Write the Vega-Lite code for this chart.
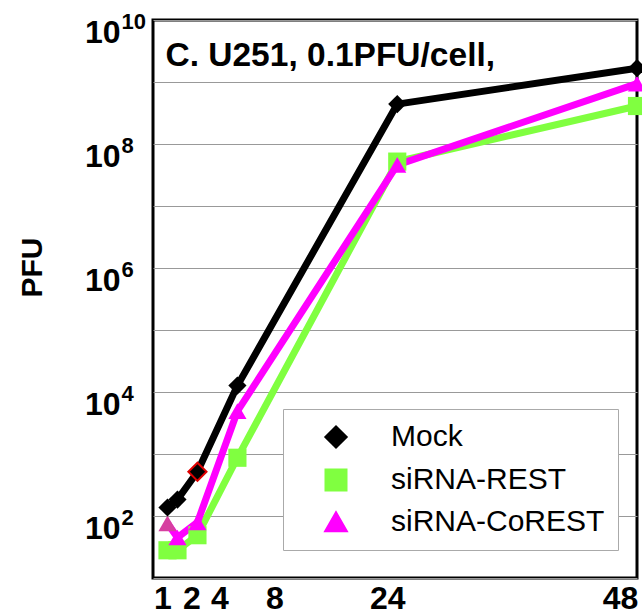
{
  "$schema": "https://vega.github.io/schema/vega-lite/v6.json",
  "width": 484,
  "height": 558,
  "autosize": {"type": "none"},
  "padding": {"left": 153, "top": 20, "right": 5, "bottom": 36},
  "background": "white",
  "config": {"view": {"stroke": "black", "strokeWidth": 3}, "font": "Liberation Sans"},
  "data": {
    "values": [
      {"series": "siRNA-REST", "hours": 1, "pfu": 28},
      {"series": "siRNA-REST", "hours": 2, "pfu": 28},
      {"series": "siRNA-REST", "hours": 4, "pfu": 49},
      {"series": "siRNA-REST", "hours": 8, "pfu": 870},
      {"series": "siRNA-REST", "hours": 24, "pfu": 52000000},
      {"series": "siRNA-REST", "hours": 48, "pfu": 410000000},
      {"series": "siRNA-CoREST", "hours": 1, "pfu": 76},
      {"series": "siRNA-CoREST", "hours": 2, "pfu": 45},
      {"series": "siRNA-CoREST", "hours": 4, "pfu": 79},
      {"series": "siRNA-CoREST", "hours": 8, "pfu": 4900},
      {"series": "siRNA-CoREST", "hours": 24, "pfu": 46000000},
      {"series": "siRNA-CoREST", "hours": 48, "pfu": 940000000},
      {"series": "Mock", "hours": 1, "pfu": 137},
      {"series": "Mock", "hours": 2, "pfu": 184},
      {"series": "Mock", "hours": 4, "pfu": 516},
      {"series": "Mock", "hours": 8, "pfu": 12700},
      {"series": "Mock", "hours": 24, "pfu": 440000000},
      {"series": "Mock", "hours": 48, "pfu": 1670000000}
    ]
  },
  "resolve": {"axis": {"y": "independent"}, "scale": {"y": "shared"}},
  "layer": [
    {
      "mark": {"type": "line", "strokeWidth": 7},
      "encoding": {
        "x": {
          "field": "hours", "type": "quantitative",
          "scale": {"domain": [-0.45, 48], "nice": false, "zero": false},
          "axis": {
            "values": [0.5, 3.4, 6.2, 11.7, 23, 46.3],
            "labelExpr": "datum.value < 1 ? '1' : datum.value < 5 ? '2' : datum.value < 8 ? '4' : datum.value < 15 ? '8' : datum.value < 30 ? '24' : '48'",
            "grid": false, "ticks": false, "tickSize": 0, "domain": false,
            "labelFont": "Liberation Sans", "labelFontWeight": "bold", "labelFontSize": 32, "labelColor": "black",
            "labelPadding": 5, "labelFlush": false, "labelOverlap": false, "labelBound": false,
            "title": null
          }
        },
        "y": {
          "field": "pfu", "type": "quantitative",
          "scale": {"type": "log", "domain": [10, 10000000000], "nice": false},
          "axis": {
            "values": [10, 100, 1000, 10000, 100000, 1000000, 10000000, 100000000, 1000000000, 10000000000],
            "labelExpr": "(round(log(datum.value)/LN10) % 2 == 0) ? '10' : ''",
            "grid": true, "gridColor": "#999999", "gridWidth": 1,
            "ticks": false, "tickSize": 0, "domain": false,
            "labelAlign": "right", "labelBaseline": "middle", "labelPadding": 33, "labelOffset": 12,
            "labelFont": "Liberation Sans", "labelFontWeight": "bold", "labelFontSize": 32, "labelColor": "black",
            "labelFlush": false, "labelOverlap": false, "labelBound": false,
            "title": "PFU", "titleFont": "Liberation Sans", "titleFontWeight": "bold", "titleFontSize": 30, "titleColor": "black",
            "titleAngle": 270, "titleX": -121, "titleY": 247, "titleAlign": "center", "titleBaseline": "middle"
          }
        },
        "color": {
          "field": "series", "type": "nominal",
          "scale": {"domain": ["Mock", "siRNA-REST", "siRNA-CoREST"], "range": ["#000000", "#80ff40", "#ff00ff"]},
          "legend": {
            "orient": "none", "legendX": 130, "legendY": 389, "title": null, "direction": "vertical",
            "padding": 13, "fillColor": "white", "strokeColor": "#aaaaaa",
            "labelFont": "Liberation Sans", "labelFontSize": 30, "labelColor": "black", "labelFontWeight": "normal",
            "labelExpr": "datum.label == 'Mock' ? '\u00a0Mock' : datum.label",
            "symbolSize": 400, "symbolStrokeWidth": 3, "symbolOffset": 25, "labelOffset": 40, "rowPadding": 11, "labelLimit": 400
          }
        }
      }
    },
    {
      "mark": {"type": "point", "filled": true, "size": 330, "opacity": 1, "strokeWidth": 2},
      "encoding": {
        "x": {"field": "hours", "type": "quantitative"},
        "y": {
          "field": "pfu", "type": "quantitative",
          "axis": {
            "orient": "left",
            "values": [10, 100, 1000, 10000, 100000, 1000000, 10000000, 100000000, 1000000000, 10000000000],
            "labelExpr": "(round(log(datum.value)/LN10) % 2 == 0) ? ('' + round(log(datum.value)/LN10)) : ''",
            "grid": false, "ticks": false, "tickSize": 0, "domain": false,
            "labelAlign": "left", "labelBaseline": "middle", "labelPadding": 32, "labelOffset": 1,
            "labelFont": "Liberation Sans", "labelFontWeight": "bold", "labelFontSize": 22, "labelColor": "black",
            "labelFlush": false, "labelOverlap": false, "labelBound": false,
            "title": null
          }
        },
        "color": {
          "field": "series", "type": "nominal",
          "legend": {
            "orient": "none", "legendX": 130, "legendY": 389, "title": null, "direction": "vertical",
            "padding": 13, "fillColor": "white", "strokeColor": "#aaaaaa",
            "labelFont": "Liberation Sans", "labelFontSize": 30, "labelColor": "black", "labelFontWeight": "normal",
            "labelExpr": "datum.label == 'Mock' ? '\u00a0Mock' : datum.label",
            "symbolSize": 400, "symbolStrokeWidth": 3, "symbolOffset": 25, "labelOffset": 40, "rowPadding": 11, "labelLimit": 400
          }
        },
        "fill": {
          "condition": {"test": "datum.series === 'siRNA-CoREST' && datum.hours === 1", "value": "#d63fa0"},
          "field": "series", "type": "nominal",
          "scale": {"domain": ["Mock", "siRNA-REST", "siRNA-CoREST"], "range": ["#000000", "#80ff40", "#ff00ff"]},
          "legend": null
        },
        "stroke": {
          "condition": {"test": "datum.series === 'Mock' && datum.hours === 4", "value": "#e00000"},
          "value": "transparent"
        },
        "shape": {
          "field": "series", "type": "nominal",
          "scale": {"domain": ["Mock", "siRNA-REST", "siRNA-CoREST"], "range": ["diamond", "square", "triangle-up"]},
          "legend": null
        }
      }
    },
    {
      "data": {"values": [{"hours": 0.8, "pfu": 1800000000, "label": "C. U251, 0.1PFU/cell,"}]},
      "mark": {"type": "text", "align": "left", "baseline": "alphabetic", "fontSize": 33.5, "fontWeight": "bold", "font": "Liberation Sans", "color": "black"},
      "encoding": {
        "x": {"field": "hours", "type": "quantitative"},
        "y": {"field": "pfu", "type": "quantitative", "axis": null},
        "text": {"field": "label"}
      }
    }
  ]
}
